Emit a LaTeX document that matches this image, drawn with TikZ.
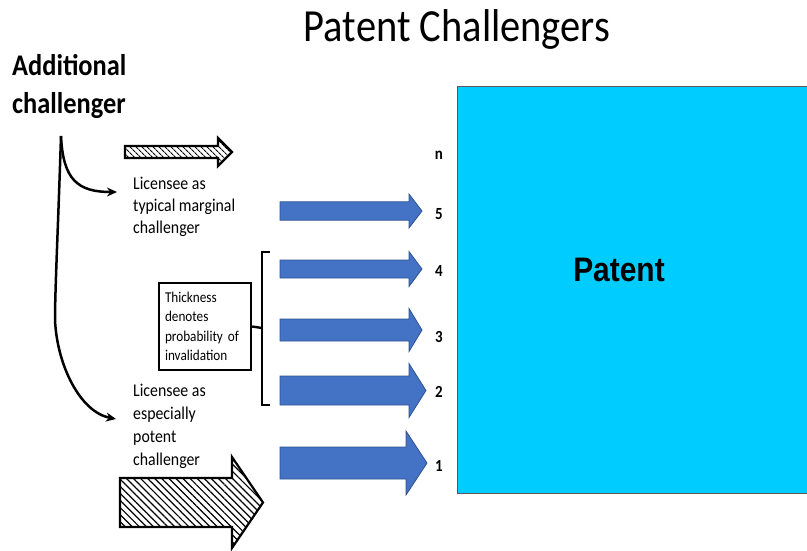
\documentclass[tikz,border=0pt]{standalone}
\usepackage{fontspec}
\setmainfont{Carlito}[FakeStretch=0.88]
\newfontfamily\arialfont{Liberation Sans}[FakeStretch=0.88]
\usetikzlibrary{arrows.meta,patterns.meta}

\definecolor{arrowblue}{HTML}{4472C4}
\definecolor{arrowedge}{HTML}{2F528F}
\definecolor{patentcyan}{HTML}{00CCFF}

% block arrow: left x, head x, tip x, centre y, half shaft, half head
\newcommand{\blockarrow}[7][]{%
  \draw[#1] (#2,#5-#6) -- (#3,#5-#6) -- (#3,#5-#7) -- (#4,#5)
    -- (#3,#5+#7) -- (#3,#5+#6) -- (#2,#5+#6) -- cycle;}

\begin{document}
\begin{tikzpicture}[x=1pt,y=-1pt,
    lictext/.style={inner sep=0pt,anchor=north west,align=left,font=\fontsize{18}{22}\selectfont},
    countlbl/.style={inner sep=0pt,font=\fontsize{17}{20}\selectfont\bfseries},
    bluearrow/.style={fill=arrowblue,draw=arrowedge,line width=0.8pt},
    hatch/.style={draw=black,line width=2.2pt,pattern={Lines[angle=-45,distance=#1,line width=1.2pt]}},
    link/.style={draw,line width=2.5pt,-{Stealth[length=10pt,width=9pt]}}]

    \useasboundingbox (0,0) rectangle (807,550);

    % Title and patent
    \node[inner sep=0pt,anchor=base,font=\fontsize{46}{52}\selectfont] (title) at (457,41) {Patent Challengers};
    \node[draw=gray!70!black,fill=patentcyan,line width=1pt,inner sep=0pt,anchor=north west,
        minimum width=354pt,minimum height=407pt] (patent) at (457,86) {};
    \node[inner sep=0pt,font=\arialfont\bfseries\fontsize{34}{40}\selectfont] (patentlbl) at (619,270) {Patent};

    % Challengers on the left
    \node[lictext,font=\fontsize{30}{38}\selectfont\bfseries] (add) at (12,54) {Additional\\challenger};
    \node[lictext] (typ) at (133,177) {Licensee as\\typical marginal\\challenger};
    \node[lictext,font=\fontsize{18}{23}\selectfont] (pot) at (133,384) {Licensee as\\especially\\potent\\challenger};

    % Hatched arrows
    \blockarrow[hatch=4pt]{125}{218}{232}{152}{6}{14}
    \blockarrow[hatch=5pt]{120}{232}{263}{502.5}{24.5}{45.5}

    % Blue arrows, thicker towards the bottom
    \foreach \yc/\sh/\hh/\xh/\xt in {211/9.2/17/409/422, 269/9/17.5/409/422,
        330/11/21.5/409/422, 390.5/14.5/27/409/426, 463/16/32/406/427}
        {\blockarrow[bluearrow]{280}{\xh}{\xt}{\yc}{\sh}{\hh}}

    % Challenger numbers
    \node[countlbl] (cn) at (439,155) {n};
    \node[countlbl] (c5) at (439,214) {5};
    \node[countlbl] (c4) at (439,271) {4};
    \node[countlbl] (c3) at (439,337) {3};
    \node[countlbl] (c2) at (439,392) {2};
    \node[countlbl] (c1) at (439,466) {1};

    % Thickness note and bracket
    \node[draw,line width=2.4pt,text width=80pt,inner xsep=6pt,inner ysep=0pt,minimum height=87pt,
        align=left,font=\fontsize{15}{19.5}\selectfont] (note) at (205,326.5)
        {Thickness\\denotes\\probability of\\invalidation};
    \draw[line width=2.4pt] (270,252) -- (262,252) -- (262,405) -- (270,405);
    \coordinate (brace) at (262,328);
    \draw[line width=2.4pt] (note.east) -- (brace);

    % Connect additional challenger to licensees
    \coordinate (fork) at (61,136);
    \coordinate (typin) at (117,192);
    \coordinate (potin) at (116,419);
    \path[link] (fork) .. controls (63,180) and (78,192) .. (typin);
    \path[link] (fork) .. controls (58,230) and (55,290) .. (55,320)
        .. controls (57,365) and (80,412) .. (potin);
\end{tikzpicture}
\end{document}
